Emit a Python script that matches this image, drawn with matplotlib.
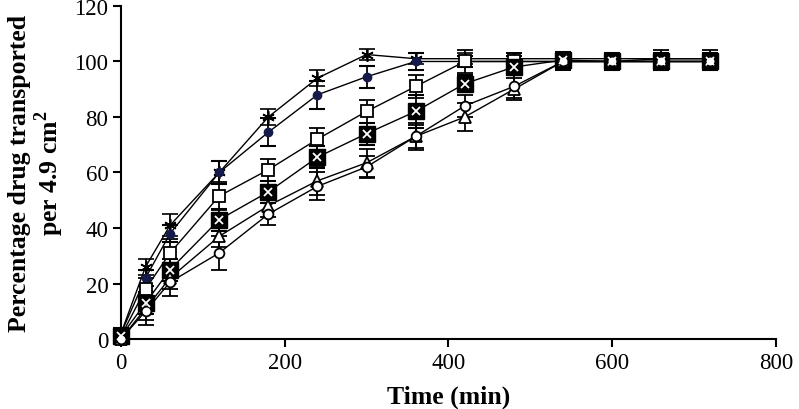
import matplotlib
matplotlib.use("Agg")
import matplotlib.pyplot as plt
import numpy as np

time = [0, 30, 60, 120, 180, 240, 300, 360, 420, 480, 540, 600, 660, 720]

star_vals = [2, 26, 41, 60, 80, 94, 102.5, 101, 101, 101, 101, 101, 101, 101]
star_err = [2, 3, 4, 4, 3, 3, 2, 2, 2, 2, 2, 2, 2, 2]

fcircle_vals = [2, 22, 38, 60, 74.5, 88, 94.5, 100, 100, 100, 100, 100, 100, 100]
fcircle_err = [2, 3, 3, 4, 5, 5, 4, 3, 2, 2, 2, 2, 2, 2]

osquare_vals = [1, 18, 31, 51.5, 61, 72, 82, 91, 100, 100, 100, 100, 101, 101]
osquare_err = [2, 4, 5, 5, 4, 4, 4, 4, 4, 3, 3, 3, 3, 3]

xsquare_vals = [1, 13, 25, 43, 53, 65.5, 74, 82, 92, 98, 100.5, 100, 100, 100]
xsquare_err = [2, 4, 4, 4, 4, 4, 4, 6, 3, 3, 3, 3, 3, 3]

triangle_vals = [0, 11, 22, 37, 48, 57, 63.5, 73, 80, 90, 100, 100, 100, 100]
triangle_err = [1, 4, 4, 4, 4, 5, 5, 5, 5, 4, 3, 3, 3, 3]

ocircle_vals = [0, 10, 20.5, 31, 45, 55, 62, 73, 84, 91, 100, 100, 100, 100]
ocircle_err = [1, 5, 5, 6, 4, 5, 4, 4, 4, 4, 3, 3, 3, 3]

x_ticks = [0, 200, 400, 600, 800]
y_ticks = [0, 20, 40, 60, 80, 100, 120]

plt.rcParams['font.family'] = ['Liberation Serif', 'DejaVu Serif']
plt.rcParams['mathtext.fontset'] = 'custom'
plt.rcParams['mathtext.rm'] = 'Liberation Serif'
plt.rcParams['mathtext.bf'] = 'Liberation Serif:bold'

fig = plt.figure(figsize=(7.99, 4.10), dpi=100)
ax = fig.add_axes([0.1514, 0.1707, 0.8196, 0.8123])

ebkw = dict(color='black', lw=1.0, elinewidth=1.3, capsize=6, capthick=1.5, clip_on=False)

series = [
    (star_vals, star_err, dict(marker=(6, 2, 0), ms=9, mfc='black', mec='black', mew=1.2)),
    (fcircle_vals, fcircle_err, dict(marker='o', ms=6, mfc='#141a4a', mec='#141a4a')),
    (osquare_vals, osquare_err, dict(marker='s', ms=8, mfc='white', mec='black', mew=1.3)),
    (xsquare_vals, xsquare_err, dict(marker='s', ms=12, mfc='black', mec='black')),
    (triangle_vals, triangle_err, dict(marker='^', ms=8, mfc='white', mec='black', mew=1.3)),
    (ocircle_vals, ocircle_err, dict(marker='o', ms=7, mfc='white', mec='black', mew=1.3)),
]

for vals, err, mk in series:
    ax.errorbar(time, vals, yerr=err, zorder=3, **ebkw, **mk)

# white X inside filled squares
ax.plot(time, xsquare_vals, linestyle='none', marker='x', ms=6, mec='white', mew=1.3,
        zorder=4, clip_on=False)

ax.set_xlim(0, 800)
ax.set_ylim(0, 120)
ax.set_xticks(x_ticks)
ax.set_yticks(y_ticks)
ax.spines['top'].set_visible(False)
ax.spines['right'].set_visible(False)
ax.spines['left'].set_linewidth(1.5)
ax.spines['bottom'].set_linewidth(1.5)
ax.tick_params(direction='out', length=6, width=1.5, labelsize=16.5, pad=3)

ax.set_xlabel('Time (min)', fontsize=18.5, fontweight='bold', labelpad=9)
ax.set_ylabel('Percentage drug transported\nper 4.9 cm$^{\\mathbf{2}}$', fontsize=18.5,
              fontweight='bold', linespacing=1.05, labelpad=6)

fig.savefig('out.png', dpi=100)
